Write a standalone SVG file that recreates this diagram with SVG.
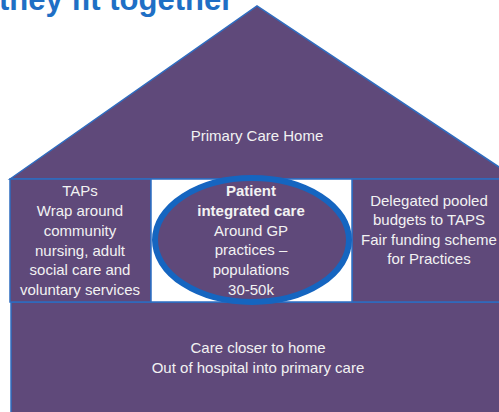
<svg xmlns="http://www.w3.org/2000/svg" width="499" height="412" viewBox="0 0 499 412">
  <style>
    .shape { fill: #5f497a; stroke: #2e6cc0; stroke-width: 1.5; }
    .txt { font-family: "Liberation Sans", Arial, sans-serif; font-size: 15px; fill: #f2f2f2; text-anchor: middle; }
    .bold { font-weight: bold; }
    .title { font-family: "Liberation Sans", Arial, sans-serif; font-size: 31px; font-weight: bold; fill: #1f6fc5; }
  </style>
  <rect width="499" height="412" fill="#ffffff"/>
  <text class="title" x="-1" y="10">they fit together</text>

  <g id="roof">
    <path class="shape" d="M10,179 L257,6 L517,179 Z" stroke-width="0.8"/>
    <text class="txt" x="257" y="141">Primary Care Home</text>
  </g>

  <g id="foundation">
    <rect class="shape" x="11" y="302" width="500" height="120"/>
    <text class="txt" x="258" y="353">Care closer to home</text>
    <text class="txt" x="258" y="373">Out of hospital into primary care</text>
  </g>

  <g id="taps">
    <rect class="shape" x="10" y="179" width="141" height="123"/>
    <text class="txt" x="80" y="196">TAPs</text>
    <text class="txt" x="80" y="216">Wrap around</text>
    <text class="txt" x="80" y="236">community</text>
    <text class="txt" x="80" y="256">nursing,  adult</text>
    <text class="txt" x="80" y="275">social care and</text>
    <text class="txt" x="80" y="295">voluntary  services</text>
  </g>

  <g id="budgets">
    <rect class="shape" x="352" y="179" width="160" height="123"/>
    <text class="txt" x="429" y="206">Delegated pooled</text>
    <text class="txt" x="429" y="225">budgets to TAPS</text>
    <text class="txt" x="429" y="245">Fair funding  scheme</text>
    <text class="txt" x="429" y="264">for Practices</text>
  </g>

  <g id="patient">
    <rect x="151" y="179" width="201" height="123" fill="#ffffff" stroke="#2e6cc0" stroke-width="1.5"/>
    <ellipse cx="252" cy="240" rx="97" ry="62" fill="#5f497a" stroke="#1565c0" stroke-width="6"/>
    <text class="txt bold" x="251" y="196">Patient</text>
    <text class="txt bold" x="251" y="216">integrated care</text>
    <text class="txt" x="251" y="236">Around GP</text>
    <text class="txt" x="251" y="255">practices –</text>
    <text class="txt" x="251" y="275">populations</text>
    <text class="txt" x="251" y="295">30-50k</text>
  </g>

  <g id="connectors"></g>
</svg>
